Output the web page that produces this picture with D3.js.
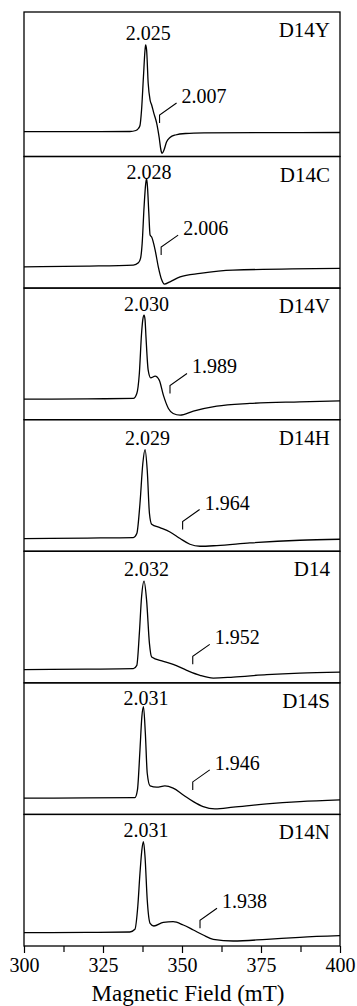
<!DOCTYPE html>
<html>
<head>
<meta charset="utf-8">
<script src="https://cdn.jsdelivr.net/npm/d3@7"></script>
<style>
  html, body { margin: 0; padding: 0; background: #fff; }
  svg { display: block; }
  svg text { font-family: "Liberation Serif", "Times New Roman", Times, "DejaVu Serif", serif !important; fill: #000; }
</style>
</head>
<body>
<svg id="chart" width="357" height="1006" font-family="Liberation Serif, serif"></svg>
<script>
// Mutant labels, top to bottom
const variants = ["D14Y", "D14C", "D14V", "D14H", "D14", "D14S", "D14N"];
// g-value of the main peak and of the high-field feature
const peakG = ["2.025", "2.028", "2.030", "2.029", "2.032", "2.031", "2.031"];
const featureG = ["2.007", "2.006", "1.989", "1.964", "1.952", "1.946", "1.938"];
// field (mT) and signal level where each feature marker starts
const featureField = [342.9, 343.4, 346.2, 350.2, 353.4, 353.4, 355.7];
const featureLevel = [33.5, 33, 26.2, 21.7, 18.5, 24.5, 17.7];
// axis ticks (mT)
const fieldTicks = [300, 325, 350, 375, 400];
const minorStep = 12.5;

// EPR spectra: [field mT, signal a.u.]
const spectrumD14Y = [[300, 24.8], [320, 24.9], [333.5, 25], [335.4, 26], [336.2, 28], [336.7, 31], [337.2, 46.5], [337.8, 79.8], [338.3, 106.5], [338.5, 111.5], [338.8, 106.5], [339.3, 73.2], [339.9, 56.5], [340.4, 51.5], [341.1, 43.2], [342.0, 33.2], [342.8, 18.5], [343.3, 7], [343.7, 3.2], [344.3, 6.5], [345.1, 14.5], [346.2, 19], [347.9, 21.5], [351.1, 23], [357, 23.6], [375, 23.9], [400, 24.0]];
const spectrumD14C = [[300, 21.3], [320, 22], [334.6, 23], [336.2, 25.3], [336.9, 30], [337.4, 45], [338.0, 81.3], [338.5, 104], [338.8, 109.7], [339.1, 100], [339.5, 75], [339.9, 53], [340.4, 51], [341.5, 38], [342.5, 21.3], [343.6, 8], [344.4, 4], [346.2, 6.3], [349.4, 11.3], [355.7, 14.7], [366.1, 18], [400, 19.7]];
const spectrumD14V = [[300, 20.5], [320, 20.8], [334.6, 21.2], [335.7, 26.2], [336.5, 46.2], [337.2, 86.2], [337.6, 100], [338.0, 104.5], [338.3, 100], [338.6, 82.8], [339.3, 49.5], [340.1, 41.8], [341.5, 43.5], [342.8, 39.5], [344.1, 24.5], [345.7, 11.2], [347.2, 6.2], [349.4, 4.5], [353.6, 8.5], [361.0, 13.5], [371.5, 16.2], [387.3, 17.8], [400, 18.8]];
const spectrumD14H = [[300, 12.7], [320, 13.2], [334.6, 13.7], [335.7, 17.7], [336.7, 47.7], [337.6, 87.7], [338.3, 101.7], [339.0, 81], [339.7, 37.7], [340.4, 27], [343.0, 23.7], [346.2, 19.3], [349.4, 12.7], [352.5, 7], [355.7, 5], [361.0, 5.7], [371.5, 8.3], [387.3, 11], [400, 12]];
const spectrumD14 = [[300, 13.2], [320, 13.7], [334.6, 14.2], [335.7, 17.5], [336.5, 49.2], [337.2, 85.8], [338.0, 101.8], [338.8, 82.5], [339.7, 39.2], [340.4, 25.8], [344.1, 21.5], [347.2, 18.5], [351.5, 12.5], [355.7, 7.5], [359.9, 4.8], [366.2, 5.8], [376.8, 8.2], [387.3, 9.8], [400, 10.8]];
const spectrumD14S = [[300, 16.2], [320, 16.5], [335.1, 16.8], [335.9, 24.5], [336.7, 64.5], [337.3, 97.8], [337.8, 107.8], [338.4, 81.2], [339.0, 41.2], [339.9, 28.5], [342.0, 27.2], [344.6, 28.5], [347.2, 26.2], [350.4, 19.5], [353.6, 12.8], [356.7, 7.8], [360.4, 5.5], [366.2, 7.2], [376.8, 10.5], [387.3, 12.8], [400, 14.5]];
const spectrumD14N = [[300, 13.3], [320, 13.6], [333.5, 14], [335.1, 16.7], [336.0, 39.3], [336.7, 72.7], [337.3, 96], [337.8, 104.3], [338.3, 89.3], [339.0, 46], [339.9, 22.7], [341.1, 20], [344.1, 23.7], [347.2, 24.3], [350.4, 21], [353.6, 16], [356.7, 11], [359.9, 6.7], [366.2, 5], [376.8, 6.7], [387.3, 8.7], [400, 10.3]];
const spectra = [spectrumD14Y, spectrumD14C, spectrumD14V, spectrumD14H, spectrumD14, spectrumD14S, spectrumD14N];

// ---- layout ----
const serif = "Liberation Serif, Times New Roman, serif";
const svg = d3.select("#chart");
const plotLeft = 24, plotRight = 340;
const stackTop = 12, stackBottom = 946;
const firstPanelH = 144.5;
const panelH = (stackBottom - stackTop - firstPanelH) / (variants.length - 1);
const fontSize = 20;

const x = d3.scaleLinear().domain([300, 400]).range([plotLeft, plotRight]);

const panels = variants.map((name, i) => {
  const top = i === 0 ? stackTop : stackTop + firstPanelH + (i - 1) * panelH;
  const h = i === 0 ? firstPanelH : panelH;
  const y = d3.scaleLinear().domain([0, h]).range([top + h, top]);
  return { name, i, top, h, y };
});

const line = d3.line().curve(d3.curveMonotoneX);

panels.forEach(p => {
  const g = svg.append("g").attr("font-family", serif);
  const data = spectra[p.i];

  // frame
  g.append("rect")
    .attr("x", plotLeft).attr("y", p.top)
    .attr("width", plotRight - plotLeft).attr("height", p.h)
    .attr("fill", "none").attr("stroke", "#000").attr("stroke-width", 1.3);

  // spectrum trace
  line.x(d => x(d[0])).y(d => p.y(d[1]));
  g.append("path")
    .datum(data)
    .attr("d", line)
    .attr("fill", "none").attr("stroke", "#000").attr("stroke-width", 1.3)
    .attr("stroke-linejoin", "round");

  // main peak g-value label
  const peak = data.reduce((a, b) => (b[1] > a[1] ? b : a));
  const px = x(peak[0]), py = p.y(peak[1]);
  g.append("text")
    .attr("x", px + 2.5)
    .attr("y", Math.max(p.top + 22.5, py - 5))
    .attr("text-anchor", "middle")
    .attr("font-size", fontSize)
    .text(peakG[p.i]);

  // variant name
  g.append("text")
    .attr("x", 330).attr("y", p.top + 25)
    .attr("text-anchor", "end")
    .attr("font-size", fontSize + 1)
    .text(p.name);

  // high-field feature marker and label
  const fx = x(featureField[p.i]), fy = p.y(featureLevel[p.i]);
  g.append("path")
    .attr("d", d3.line()([[fx, fy], [fx, fy - 8], [fx + 17, fy - 20]]))
    .attr("fill", "none").attr("stroke", "#000").attr("stroke-width", 1.1);
  g.append("text")
    .attr("x", fx + 22).attr("y", fy - 20)
    .attr("font-size", fontSize)
    .text(featureG[p.i]);
});

// bottom field axis
const axisG = svg.append("g").attr("transform", `translate(0,${stackBottom})`);
axisG.call(d3.axisBottom(x)
  .tickValues(d3.range(300, 400 + 1e-6, minorStep).filter(v => !fieldTicks.includes(v)))
  .tickSize(6).tickFormat(""));
axisG.append("g").call(d3.axisBottom(x).tickValues(fieldTicks).tickSize(7).tickPadding(5).tickFormat(d3.format("d")));
axisG.selectAll(".domain").remove();
axisG.attr("font-family", serif);
axisG.selectAll("g").attr("font-family", serif);
axisG.selectAll(".tick line").attr("stroke", "#000").attr("stroke-width", 1.2);
axisG.selectAll(".tick text")
  .attr("font-family", serif)
  .attr("font-size", fontSize).attr("fill", "#000");

svg.append("text")
  .attr("x", 188).attr("y", 1001)
  .attr("text-anchor", "middle")
  .attr("font-family", serif)
  .attr("font-size", 23)
  .text("Magnetic Field (mT)");
</script>
</body>
</html>
